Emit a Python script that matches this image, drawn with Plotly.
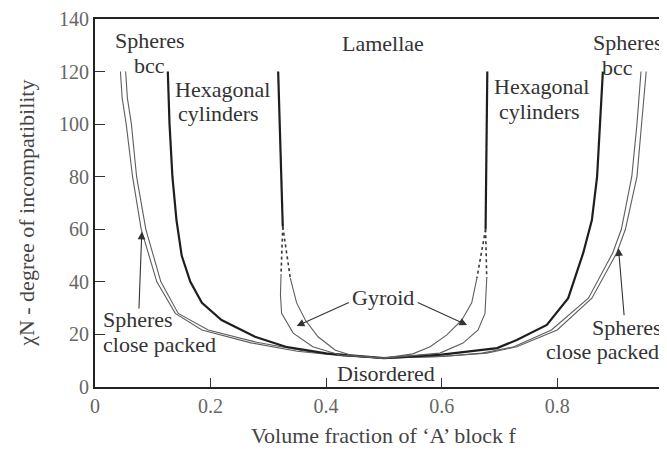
import plotly.graph_objects as go

# ---- data (f, chiN) ----
# left side
cps_left_f = [0.044, 0.047, 0.054, 0.065, 0.080, 0.107, 0.139, 0.185, 0.27, 0.35, 0.43, 0.50]
cps_left_n = [120, 110, 100, 80, 60, 40, 28, 21.7, 16.8, 13.6, 11.8, 11.0]
bcc_left_f = [0.053, 0.056, 0.063, 0.072, 0.088, 0.114, 0.144, 0.196, 0.28, 0.36, 0.43, 0.50]
bcc_left_n = [120, 110, 100, 80, 60, 40, 28, 21.7, 17.0, 13.8, 11.9, 11.0]
hex_left_f = [0.126, 0.129, 0.134, 0.141, 0.150, 0.165, 0.185, 0.219, 0.277, 0.33, 0.40, 0.50]
hex_left_n = [120, 100, 80, 63.5, 50, 40, 32, 25.5, 19.1, 15.3, 12.8, 11.0]
lam_left_f = [0.317, 0.325]
lam_left_n = [120, 61]
dot_left_out_f = [0.325, 0.322]
dot_left_out_n = [61, 43]
dot_left_in_f = [0.325, 0.338]
dot_left_in_n = [61, 41.4]
gyr_left_out_f = [0.322, 0.321, 0.323, 0.343, 0.377, 0.424, 0.50]
gyr_left_out_n = [43, 35, 28, 20.5, 15.3, 12.2, 11.0]
gyr_left_in_f = [0.338, 0.349, 0.364, 0.386, 0.416, 0.445, 0.50]
gyr_left_in_n = [41.4, 32, 25.5, 19.1, 14.0, 12.0, 11.0]

# right side
cps_right_f = [0.954, 0.950, 0.947, 0.938, 0.918, 0.903, 0.860, 0.800, 0.730, 0.678, 0.60, 0.50]
cps_right_n = [120, 110, 100, 80, 60, 51, 33.8, 21.7, 15.3, 12.9, 11.6, 11.0]
bcc_right_f = [0.945, 0.942, 0.938, 0.929, 0.911, 0.896, 0.854, 0.790, 0.725, 0.670, 0.60, 0.50]
bcc_right_n = [120, 110, 100, 80, 60, 51, 33.8, 21.7, 15.3, 12.9, 11.6, 11.0]
hex_right_f = [0.879, 0.874, 0.869, 0.860, 0.845, 0.819, 0.782, 0.730, 0.696, 0.60, 0.50]
hex_right_n = [120, 100, 80, 63.5, 51, 33.8, 23.6, 17.9, 14.8, 12.3, 11.0]
lam_right_f = [0.679, 0.676]
lam_right_n = [120, 60]
dot_right_out_f = [0.676, 0.678]
dot_right_out_n = [60, 41.4]
dot_right_in_f = [0.676, 0.661]
dot_right_in_n = [60, 41.4]
gyr_right_out_f = [0.678, 0.677, 0.675, 0.663, 0.637, 0.597, 0.50]
gyr_right_out_n = [41.4, 35, 28, 21.7, 16.7, 12.9, 11.0]
gyr_right_in_f = [0.661, 0.652, 0.635, 0.609, 0.580, 0.550, 0.50]
gyr_right_in_n = [41.4, 32, 25.5, 19.8, 15.3, 12.6, 11.0]

x_ticks = [0, 0.2, 0.4, 0.6, 0.8, 1]
x_tick_text = ["0", "0.2", "0.4", "0.6", "0.8", "1"]
y_ticks = [0, 20, 40, 60, 80, 100, 120, 140]

SERIF = "Liberation Serif, Times New Roman, serif"
THICK = dict(color="#1e1e1e", width=2.2)
THIN = dict(color="#5e5e5e", width=1.1)
DOT = dict(color="#3a3a3a", width=1.6, dash="dot")

fig = go.Figure()

def add(fx, fy, line):
    fig.add_trace(go.Scatter(x=fx, y=fy, mode="lines", line=line,
                             hoverinfo="skip", showlegend=False))

for fx, fy, ln in [
    (cps_left_f, cps_left_n, THIN), (bcc_left_f, bcc_left_n, THIN),
    (hex_left_f, hex_left_n, THICK), (lam_left_f, lam_left_n, THICK),
    (dot_left_out_f, dot_left_out_n, DOT), (dot_left_in_f, dot_left_in_n, DOT),
    (gyr_left_out_f, gyr_left_out_n, THIN), (gyr_left_in_f, gyr_left_in_n, THIN),
    (cps_right_f, cps_right_n, THIN), (bcc_right_f, bcc_right_n, THIN),
    (hex_right_f, hex_right_n, THICK), (lam_right_f, lam_right_n, THICK),
    (dot_right_out_f, dot_right_out_n, DOT), (dot_right_in_f, dot_right_in_n, DOT),
    (gyr_right_out_f, gyr_right_out_n, THIN), (gyr_right_in_f, gyr_right_in_n, THIN),
]:
    add(fx, fy, ln)

TXT = dict(family=SERIF, size=22, color="#333333")

def label(text, x, y, xanchor="center"):
    fig.add_annotation(x=x, y=y, text=text, showarrow=False, font=TXT,
                       xanchor=xanchor, yanchor="middle", borderpad=0)

label("Spheres", 0.095, 132)
label("bcc", 0.095, 122.5)
label("Hexagonal", 0.221, 113.2)
label("cylinders", 0.214, 104)
label("Lamellae", 0.498, 130.8)
label("Spheres", 0.922, 131)
label("bcc", 0.904, 121.7)
label("Hexagonal", 0.772, 114.2)
label("cylinders", 0.769, 105)
label("Spheres", 0.012, 25.5, "left")
label("close packed", 0.012, 16, "left")
label("Spheres", 0.983, 22.8, "right")
label("close packed", 0.978, 13.4, "right")
label("Disordered", 0.504, 5.3)
label("Gyroid", 0.499, 33.9)

def arrow(x, y, ax, ay):
    fig.add_annotation(x=x, y=y, ax=ax, ay=ay, xref="x", yref="y",
                       axref="x", ayref="y", text="", showarrow=True,
                       arrowhead=2, arrowsize=1.4, arrowwidth=1.1,
                       arrowcolor="#333333", standoff=0, startstandoff=0)

arrow(0.349, 23.2, 0.442, 32.4)
arrow(0.644, 23.6, 0.556, 32.4)
arrow(0.081, 59.1, 0.076, 29.3)
arrow(0.906, 52.8, 0.916, 26.7)

AX = dict(family=SERIF, size=22, color="#444444")
fig.add_annotation(xref="paper", yref="paper", x=-0.119, y=0.473,
                   text="χN - degree of incompatibility", textangle=-90,
                   showarrow=False, font=AX, xanchor="center", yanchor="middle")
fig.add_annotation(xref="paper", yref="paper", x=0.505, y=-0.133,
                   text="Volume fraction of ‘A’ block f",
                   showarrow=False, font=AX, xanchor="center", yanchor="middle")

# the page body has an 8px margin, so the figure is sized to fit the window
fig.update_layout(
    width=659, height=446,
    margin=dict(l=87, r=0, t=11, b=67),
    paper_bgcolor="white", plot_bgcolor="white",
    xaxis=dict(range=[0, 0.99], tickvals=x_ticks, ticktext=x_tick_text,
               ticks="inside", ticklen=9, tickwidth=1.2, tickcolor="#333",
               showline=True, linecolor="#222", linewidth=2, mirror=True,
               showgrid=False, zeroline=False,
               tickfont=dict(family=SERIF, size=20, color="#666666")),
    yaxis=dict(range=[0, 140], tickvals=y_ticks,
               ticks="inside", ticklen=10, tickwidth=1.2, tickcolor="#333",
               showline=True, linecolor="#222", linewidth=2,
               showgrid=False, zeroline=False,
               tickfont=dict(family=SERIF, size=20, color="#666666")),
)

fig.write_html("out.html")
